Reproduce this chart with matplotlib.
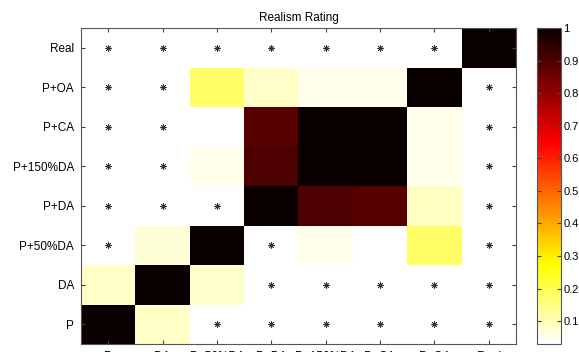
import numpy as np
import matplotlib.pyplot as plt

plt.rcParams['font.family'] = ['Liberation Sans', 'DejaVu Sans']

labels = ["P", "DA", "P+50%DA", "P+DA", "P+150%DA", "P+CA", "P+OA", "Real"]
N = np.nan
# rows listed from P (bottom) up to Real (top); NaN = marked with *
row_p = [1.0, 0.085, N, N, N, N, N, N]
row_da = [0.085, 1.0, 0.08, N, N, N, N, N]
row_p50da = [N, 0.07, 1.0, N, 0.05, 0.03, 0.18, N]
row_pda = [N, N, N, 1.0, 0.905, 0.89, 0.09, N]
row_p150da = [N, N, 0.05, 0.905, 1.0, 1.0, 0.05, N]
row_pca = [N, N, 0.03, 0.89, 1.0, 1.0, 0.05, N]
row_poa = [N, N, 0.18, 0.085, 0.05, 0.05, 1.0, N]
row_real = [N, N, N, N, N, N, N, 1.0]

data = np.array([row_p, row_da, row_p50da, row_pda,
                 row_p150da, row_pca, row_poa, row_real])

fig = plt.figure(figsize=(5.79, 3.52), dpi=100)
ax = fig.add_axes([0.14, 0.023, 0.751, 0.897])

cmap = plt.get_cmap('hot_r').copy()
cmap.set_bad('white')
im = ax.imshow(np.ma.masked_invalid(data), cmap=cmap, origin='lower',
               aspect='auto', interpolation='nearest',
               vmin=np.nanmin(data), vmax=np.nanmax(data))

# asterisks where no value
yy, xx = np.where(np.isnan(data))
ax.scatter(xx, yy, marker=(8, 2, 0), s=16, color='#333333', linewidths=0.6)

ax.set_xticks(range(len(labels)))
ax.set_xticklabels(labels, fontsize=8.5)
ax.set_yticks(range(len(labels)))
ax.set_yticklabels(labels, fontsize=8.5)
ax.tick_params(direction='in', length=3, top=True, right=True,
               color='#444444', pad=5)
for s in ax.spines.values():
    s.set_color('#555555')
    s.set_linewidth(0.8)
ax.set_title("Realism Rating", fontsize=8.5, pad=5)

cax = fig.add_axes([0.927, 0.023, 0.0415, 0.897])
cb = fig.colorbar(im, cax=cax)
cb.set_ticks([0.1, 0.2, 0.3, 0.4, 0.5, 0.6, 0.7, 0.8, 0.9, 1.0])
cb.set_ticklabels(["0.1", "0.2", "0.3", "0.4", "0.5", "0.6", "0.7", "0.8", "0.9", "1"])
cb.ax.tick_params(direction='in', length=3, left=True, right=True,
                  labelsize=8, color='#444444', pad=2)
cb.outline.set_edgecolor('#555555')
cb.outline.set_linewidth(0.8)

fig.savefig("out.png", dpi=100)
